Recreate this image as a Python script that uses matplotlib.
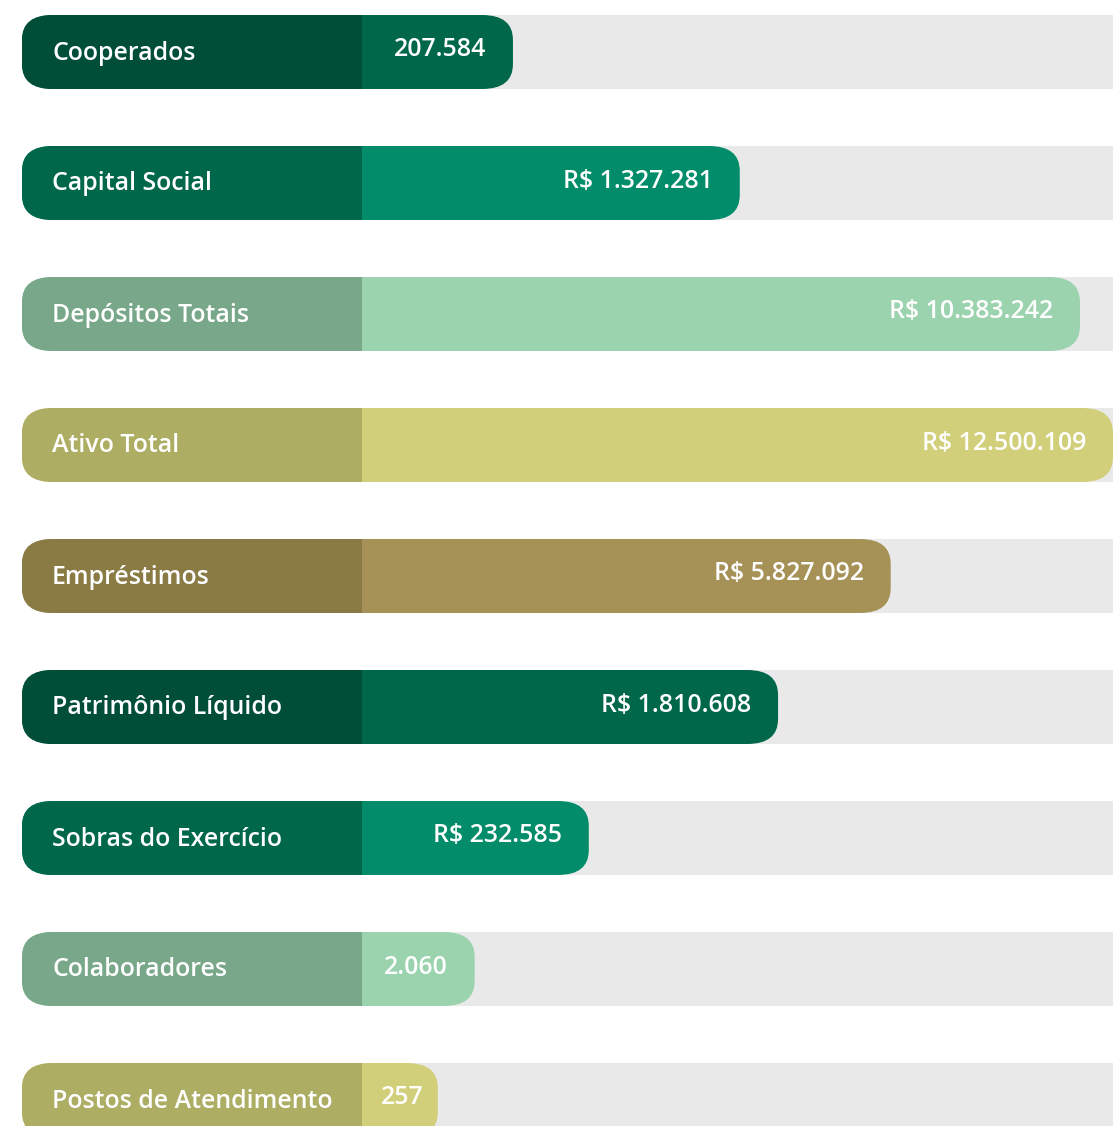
import matplotlib
matplotlib.use("Agg")
import matplotlib.pyplot as plt
from matplotlib.patches import FancyBboxPatch, Rectangle

categories = ["Cooperados", "Capital Social", "Depósitos Totais", "Ativo Total",
              "Empréstimos", "Patrimônio Líquido", "Sobras do Exercício",
              "Colaboradores", "Postos de Atendimento"]
values = [207584, 1327281, 10383242, 12500109, 5827092, 1810608, 232585, 2060, 257]
is_currency = [False, True, True, True, True, True, True, False, False]
fill_pct = [20.1, 50.3, 95.6, 100.0, 70.4, 55.4, 30.2, 15.0, 10.1]
label_colors = ["#004d38", "#00674b", "#79a78a", "#aead64", "#8a7b45",
                "#004d38", "#00674b", "#79a78a", "#aead64"]
value_colors = ["#00674b", "#028c6a", "#9cd3af", "#d2cf7a", "#a69156",
                "#00674b", "#028c6a", "#9cd3af", "#d2cf7a"]

W, H = 1113, 1126
fig = plt.figure(figsize=(W / 100, H / 100), dpi=100)
ax = fig.add_axes([0, 0, 1, 1])
ax.set_xlim(0, W)
ax.set_ylim(H, 0)
ax.axis("off")

x0 = 22          # left edge of label block
xs = 362         # split between label and value
track_w = W - xs
top0 = 15
step = 131
bh = 74
r = 31
asp = 0.8
font = ["Open Sans", "DejaVu Sans"]
fs = 17.9

def fmt(v, cur):
    s = f"{v:,}".replace(",", ".")
    return ("R$ " + s) if cur else s

renderer = fig.canvas.get_renderer()

for i, cat in enumerate(categories):
    y = top0 + i * step
    # gray track
    ax.add_patch(Rectangle((xs, y), W - xs + 5, bh, facecolor="#e9e9e9",
                           edgecolor="none", zorder=1))
    xe = xs + fill_pct[i] / 100.0 * track_w
    # value bar (rounded)
    ax.add_patch(FancyBboxPatch((x0, y), xe - x0, bh,
                                boxstyle=f"round,pad=0,rounding_size={r}",
                                mutation_aspect=asp,
                                facecolor=value_colors[i], edgecolor="none",
                                zorder=2))
    # label block: rounded left, square right
    ax.add_patch(FancyBboxPatch((x0, y), xs - x0, bh,
                                boxstyle=f"round,pad=0,rounding_size={r}",
                                mutation_aspect=asp,
                                facecolor=label_colors[i], edgecolor="none",
                                zorder=3))
    ax.add_patch(Rectangle((xs - r - 2, y), r + 2, bh,
                           facecolor=label_colors[i], edgecolor="none", zorder=3))
    yc = y + bh / 2
    ax.text(52, yc + 1, cat, color="white", fontsize=fs, family=font,
            weight="semibold", ha="left", va="center", zorder=4)
    t = ax.text(xe - 27, yc - 2, fmt(values[i], is_currency[i]), color="white",
                fontsize=fs, family=font, weight="semibold",
                ha="right", va="center", zorder=4)
    bb = t.get_window_extent(renderer)
    if bb.x0 < xs + 19:
        t.set_ha("left")
        t.set_x(xs + 19)

fig.savefig("out.png", dpi=100)
